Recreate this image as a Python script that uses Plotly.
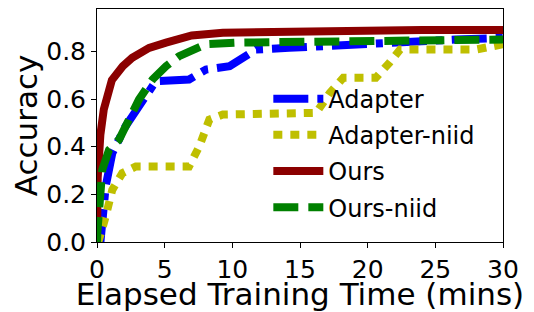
import plotly.graph_objects as go

ours_x = [0, 0.05, 0.25, 0.5, 1.1, 1.9, 2.6, 3.85, 5.1, 7.0, 9.3, 14.2, 20, 24, 30]
ours_y = [0.0, 0.27, 0.45, 0.556, 0.68, 0.738, 0.773, 0.815, 0.837, 0.867, 0.878, 0.883, 0.886, 0.89, 0.89]

adapter_x = [0, 0.27, 0.64, 1.13, 2.1, 3.36, 4.35, 6.8, 8.05, 9.8, 11.75, 14.2, 16.7, 21.6, 26.5, 30]
adapter_y = [0.0, 0.01, 0.233, 0.373, 0.485, 0.598, 0.675, 0.682, 0.724, 0.738, 0.808, 0.815, 0.822, 0.843, 0.85, 0.857]

adapter_niid_x = [0, 0.15, 0.64, 1.13, 1.87, 2.87, 6.8, 7.56, 8.3, 9.3, 16.2, 17.2, 18.2, 20.6, 21.6, 22.4, 28, 30]
adapter_niid_y = [0.0, 0.01, 0.107, 0.219, 0.289, 0.317, 0.317, 0.401, 0.514, 0.535, 0.542, 0.626, 0.689, 0.689, 0.752, 0.808, 0.808, 0.83]

ours_niid_x = [0, 0.02, 0.39, 0.89, 1.63, 2.37, 3.1, 4.1, 5.1, 6.07, 7.06, 8.05, 10.5, 19.3, 30]
ours_niid_y = [0.0, 0.037, 0.303, 0.387, 0.43, 0.514, 0.598, 0.682, 0.738, 0.78, 0.808, 0.83, 0.837, 0.843, 0.85]

x_ticks = [0, 5, 10, 15, 20, 25, 30]
y_ticks = [0.0, 0.2, 0.4, 0.6, 0.8]

FONT = "DejaVu Sans"
LW = 8

fig = go.Figure()
fig.add_trace(go.Scatter(x=adapter_x, y=adapter_y, mode="lines", name="Adapter", legendgroup="a",
                         line=dict(color="#0000ff", width=LW, dash="35px,9px,7px,9px")))
fig.add_trace(go.Scatter(x=adapter_niid_x, y=adapter_niid_y, mode="lines", name="Adapter-niid", legendgroup="b",
                         line=dict(color="#bfbf00", width=LW, dash="9px,8px")))
fig.add_trace(go.Scatter(x=ours_x, y=ours_y, mode="lines", name="Ours", legendgroup="c",
                         line=dict(color="#8b0000", width=LW)))
fig.add_trace(go.Scatter(x=ours_niid_x, y=ours_niid_y, mode="lines", name="Ours-niid", legendgroup="d",
                         line=dict(color="#008000", width=LW, dash="25px,10px")))

fig.update_layout(
    width=526, height=304,
    margin=dict(l=89, r=31, t=1, b=70),
    paper_bgcolor="white", plot_bgcolor="white",
    font=dict(family=FONT, size=25, color="black"),
    showlegend=True,
    legend=dict(x=0.422, y=0.71, xanchor="left", yanchor="top",
                bgcolor="rgba(0,0,0,0)", font=dict(size=24, family=FONT),
                tracegroupgap=2, itemwidth=50),
    xaxis=dict(range=[0, 30], tickvals=x_ticks, ticktext=[str(v) for v in x_ticks],
               automargin=False,
               showgrid=False, zeroline=False, showline=True, linecolor="black", linewidth=1,
               mirror=True, ticks="outside", ticklen=5, tickcolor="black",
               tickfont=dict(size=25, family=FONT),
               title=dict(text="Elapsed Training Time (mins)", font=dict(size=31, family=FONT), standoff=9)),
    yaxis=dict(range=[0, 0.978], tickvals=y_ticks, ticktext=[f"{v:.1f}" for v in y_ticks],
               automargin=False,
               showgrid=False, zeroline=False, showline=True, linecolor="black", linewidth=1,
               mirror=True, ticks="outside", ticklen=5, tickcolor="black",
               tickfont=dict(size=25, family=FONT),
               title=dict(text="Accuracy", font=dict(size=31, family=FONT), standoff=3)),
)

fig.write_html("out.html")
